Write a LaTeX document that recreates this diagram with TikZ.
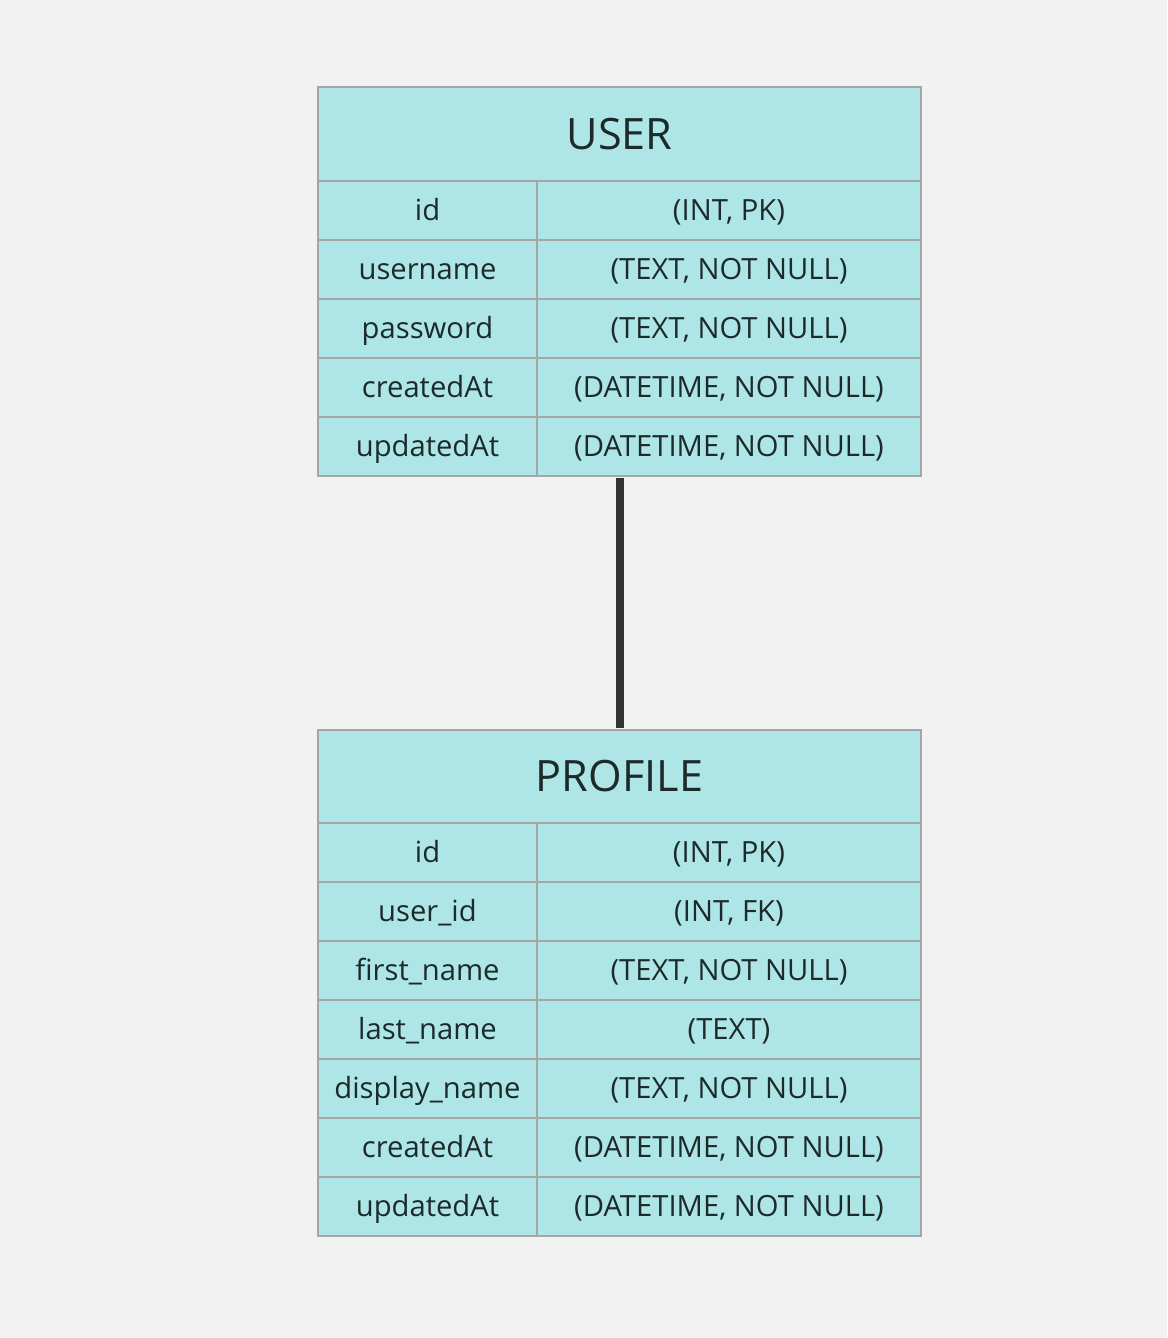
\documentclass[tikz,border=0pt]{standalone}
\usepackage{fontspec}
\setmainfont{Open Sans}
\usepackage{tikz}

\definecolor{bgcol}{HTML}{F2F2F2}
\definecolor{cellcol}{HTML}{AEE6E8}
\definecolor{edgecol}{HTML}{A6A6A6}
\definecolor{inkcol}{HTML}{1C2A2A}
\definecolor{relcol}{HTML}{333333}

\tikzset{
    cell/.style={draw=edgecol, fill=cellcol, line width=1pt, text=inkcol, inner sep=0pt, minimum height=29.5pt, text height=10.4pt, text depth=0pt, font=\fontsize{14.6}{17}\selectfont},
    keycell/.style={cell, minimum width=109.5pt},
    typecell/.style={cell, minimum width=192pt},
    headcell/.style={cell, minimum width=301.5pt, minimum height=47pt, text height=15.4pt, font=\fontsize{21.6}{25}\selectfont},
    rel/.style={draw=relcol, line width=4pt}
}

\begin{document}
\begin{tikzpicture}[x=0.5pt, y=-0.5pt]
        \fill[bgcol] (0,0) rectangle (1167,1338);
        % user table
        \node[headcell] (user) at (619.5,134) {USER};
        \node[keycell] (uk1) at (427.5,210.5) {id};
        \node[typecell] (ut1) at (729,210.5) {(INT, PK)};
        \node[keycell] (uk2) at (427.5,269.5) {username};
        \node[typecell] (ut2) at (729,269.5) {(TEXT, NOT NULL)};
        \node[keycell] (uk3) at (427.5,328.5) {password};
        \node[typecell] (ut3) at (729,328.5) {(TEXT, NOT NULL)};
        \node[keycell] (uk4) at (427.5,387.5) {createdAt};
        \node[typecell] (ut4) at (729,387.5) {(DATETIME, NOT NULL)};
        \node[keycell] (uk5) at (427.5,446.5) {updatedAt};
        \node[typecell] (ut5) at (729,446.5) {(DATETIME, NOT NULL)};
        % profile table
        \node[headcell] (profile) at (619.5,776.5) {PROFILE};
        \node[keycell] (pk1) at (427.5,852.5) {id};
        \node[typecell] (pt1) at (729,852.5) {(INT, PK)};
        \node[keycell] (pk2) at (427.5,911.5) {user\_id};
        \node[typecell] (pt2) at (729,911.5) {(INT, FK)};
        \node[keycell] (pk3) at (427.5,970.5) {first\_name};
        \node[typecell] (pt3) at (729,970.5) {(TEXT, NOT NULL)};
        \node[keycell] (pk4) at (427.5,1029.5) {last\_name};
        \node[typecell] (pt4) at (729,1029.5) {(TEXT)};
        \node[keycell] (pk5) at (427.5,1088.5) {display\_name};
        \node[typecell] (pt5) at (729,1088.5) {(TEXT, NOT NULL)};
        \node[keycell] (pk6) at (427.5,1147.5) {createdAt};
        \node[typecell] (pt6) at (729,1147.5) {(DATETIME, NOT NULL)};
        \node[keycell] (pk7) at (427.5,1206.5) {updatedAt};
        \node[typecell] (pt7) at (729,1206.5) {(DATETIME, NOT NULL)};
        % one to one link
        \draw[rel] ([yshift=-0.5pt]user.center |- ut5.south) -- ([yshift=0.5pt]profile.north);
    \end{tikzpicture}
\end{document}
